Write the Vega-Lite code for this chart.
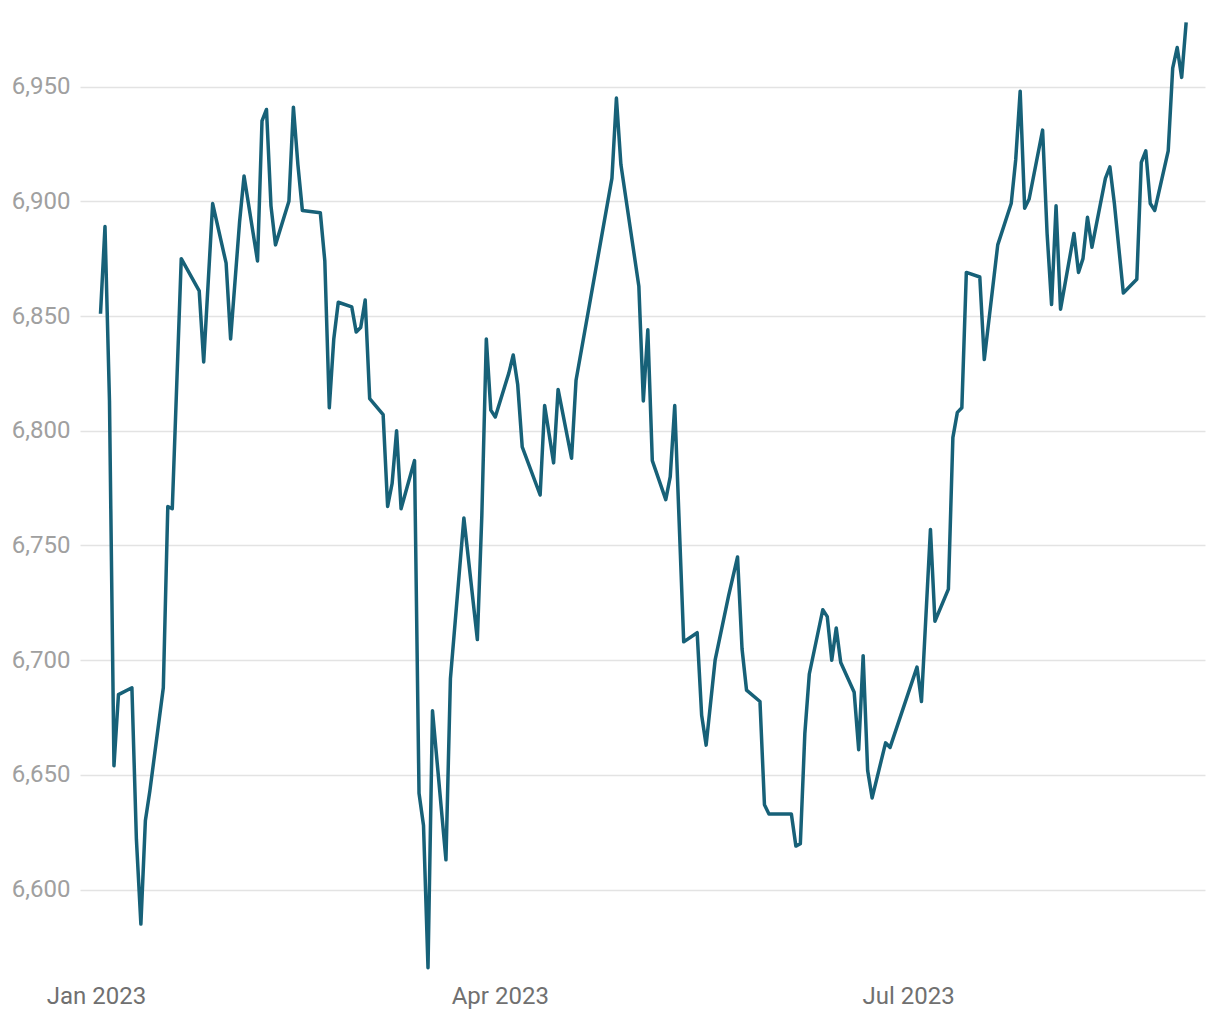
{
  "$schema": "https://vega.github.io/schema/vega-lite/v6.json",
  "width": 1125,
  "height": 950,
  "autosize": {"type": "none"},
  "padding": {"left": 80, "top": 20, "right": 15, "bottom": 50},
  "background": "white",
  "config": {"view": {"stroke": null}, "font": "Roboto"},
  "data": {"values": [
    {"date": "2023-01-02", "value": 6851},
    {"date": "2023-01-03", "value": 6889},
    {"date": "2023-01-04", "value": 6813},
    {"date": "2023-01-05", "value": 6654},
    {"date": "2023-01-06", "value": 6685},
    {"date": "2023-01-09", "value": 6688},
    {"date": "2023-01-10", "value": 6622},
    {"date": "2023-01-11", "value": 6585},
    {"date": "2023-01-12", "value": 6630},
    {"date": "2023-01-13", "value": 6643},
    {"date": "2023-01-16", "value": 6688},
    {"date": "2023-01-17", "value": 6767},
    {"date": "2023-01-18", "value": 6766},
    {"date": "2023-01-20", "value": 6875},
    {"date": "2023-01-24", "value": 6861},
    {"date": "2023-01-25", "value": 6830},
    {"date": "2023-01-27", "value": 6899},
    {"date": "2023-01-30", "value": 6873},
    {"date": "2023-01-31", "value": 6840},
    {"date": "2023-02-02", "value": 6891},
    {"date": "2023-02-03", "value": 6911},
    {"date": "2023-02-06", "value": 6874},
    {"date": "2023-02-07", "value": 6935},
    {"date": "2023-02-08", "value": 6940},
    {"date": "2023-02-09", "value": 6898},
    {"date": "2023-02-10", "value": 6881},
    {"date": "2023-02-13", "value": 6900},
    {"date": "2023-02-14", "value": 6941},
    {"date": "2023-02-15", "value": 6916},
    {"date": "2023-02-16", "value": 6896},
    {"date": "2023-02-20", "value": 6895},
    {"date": "2023-02-21", "value": 6874},
    {"date": "2023-02-22", "value": 6810},
    {"date": "2023-02-23", "value": 6840},
    {"date": "2023-02-24", "value": 6856},
    {"date": "2023-02-27", "value": 6854},
    {"date": "2023-02-28", "value": 6843},
    {"date": "2023-03-01", "value": 6845},
    {"date": "2023-03-02", "value": 6857},
    {"date": "2023-03-03", "value": 6814},
    {"date": "2023-03-06", "value": 6807},
    {"date": "2023-03-07", "value": 6767},
    {"date": "2023-03-08", "value": 6777},
    {"date": "2023-03-09", "value": 6800},
    {"date": "2023-03-10", "value": 6766},
    {"date": "2023-03-13", "value": 6787},
    {"date": "2023-03-14", "value": 6642},
    {"date": "2023-03-15", "value": 6628},
    {"date": "2023-03-16", "value": 6566},
    {"date": "2023-03-17", "value": 6678},
    {"date": "2023-03-20", "value": 6613},
    {"date": "2023-03-21", "value": 6692},
    {"date": "2023-03-24", "value": 6762},
    {"date": "2023-03-27", "value": 6709},
    {"date": "2023-03-28", "value": 6763},
    {"date": "2023-03-29", "value": 6840},
    {"date": "2023-03-30", "value": 6809},
    {"date": "2023-03-31", "value": 6806},
    {"date": "2023-04-03", "value": 6825},
    {"date": "2023-04-04", "value": 6833},
    {"date": "2023-04-05", "value": 6820},
    {"date": "2023-04-06", "value": 6793},
    {"date": "2023-04-10", "value": 6772},
    {"date": "2023-04-11", "value": 6811},
    {"date": "2023-04-13", "value": 6786},
    {"date": "2023-04-14", "value": 6818},
    {"date": "2023-04-17", "value": 6788},
    {"date": "2023-04-18", "value": 6822},
    {"date": "2023-04-26", "value": 6910},
    {"date": "2023-04-27", "value": 6945},
    {"date": "2023-04-28", "value": 6916},
    {"date": "2023-05-02", "value": 6863},
    {"date": "2023-05-03", "value": 6813},
    {"date": "2023-05-04", "value": 6844},
    {"date": "2023-05-05", "value": 6787},
    {"date": "2023-05-08", "value": 6770},
    {"date": "2023-05-09", "value": 6780},
    {"date": "2023-05-10", "value": 6811},
    {"date": "2023-05-12", "value": 6708},
    {"date": "2023-05-15", "value": 6712},
    {"date": "2023-05-16", "value": 6676},
    {"date": "2023-05-17", "value": 6663},
    {"date": "2023-05-19", "value": 6700},
    {"date": "2023-05-22", "value": 6728},
    {"date": "2023-05-24", "value": 6745},
    {"date": "2023-05-25", "value": 6705},
    {"date": "2023-05-26", "value": 6687},
    {"date": "2023-05-29", "value": 6682},
    {"date": "2023-05-30", "value": 6637},
    {"date": "2023-05-31", "value": 6633},
    {"date": "2023-06-05", "value": 6633},
    {"date": "2023-06-06", "value": 6619},
    {"date": "2023-06-07", "value": 6620},
    {"date": "2023-06-08", "value": 6668},
    {"date": "2023-06-09", "value": 6694},
    {"date": "2023-06-12", "value": 6722},
    {"date": "2023-06-13", "value": 6719},
    {"date": "2023-06-14", "value": 6700},
    {"date": "2023-06-15", "value": 6714},
    {"date": "2023-06-16", "value": 6699},
    {"date": "2023-06-19", "value": 6686},
    {"date": "2023-06-20", "value": 6661},
    {"date": "2023-06-21", "value": 6702},
    {"date": "2023-06-22", "value": 6652},
    {"date": "2023-06-23", "value": 6640},
    {"date": "2023-06-26", "value": 6664},
    {"date": "2023-06-27", "value": 6662},
    {"date": "2023-07-03", "value": 6697},
    {"date": "2023-07-04", "value": 6682},
    {"date": "2023-07-06", "value": 6757},
    {"date": "2023-07-07", "value": 6717},
    {"date": "2023-07-10", "value": 6731},
    {"date": "2023-07-11", "value": 6797},
    {"date": "2023-07-12", "value": 6808},
    {"date": "2023-07-13", "value": 6810},
    {"date": "2023-07-14", "value": 6869},
    {"date": "2023-07-17", "value": 6867},
    {"date": "2023-07-18", "value": 6831},
    {"date": "2023-07-21", "value": 6881},
    {"date": "2023-07-24", "value": 6899},
    {"date": "2023-07-25", "value": 6918},
    {"date": "2023-07-26", "value": 6948},
    {"date": "2023-07-27", "value": 6897},
    {"date": "2023-07-28", "value": 6901},
    {"date": "2023-07-31", "value": 6931},
    {"date": "2023-08-01", "value": 6886},
    {"date": "2023-08-02", "value": 6855},
    {"date": "2023-08-03", "value": 6898},
    {"date": "2023-08-04", "value": 6853},
    {"date": "2023-08-07", "value": 6886},
    {"date": "2023-08-08", "value": 6869},
    {"date": "2023-08-09", "value": 6875},
    {"date": "2023-08-10", "value": 6893},
    {"date": "2023-08-11", "value": 6880},
    {"date": "2023-08-14", "value": 6910},
    {"date": "2023-08-15", "value": 6915},
    {"date": "2023-08-16", "value": 6899},
    {"date": "2023-08-18", "value": 6860},
    {"date": "2023-08-21", "value": 6866},
    {"date": "2023-08-22", "value": 6917},
    {"date": "2023-08-23", "value": 6922},
    {"date": "2023-08-24", "value": 6899},
    {"date": "2023-08-25", "value": 6896},
    {"date": "2023-08-28", "value": 6922},
    {"date": "2023-08-29", "value": 6958},
    {"date": "2023-08-30", "value": 6967},
    {"date": "2023-08-31", "value": 6954},
    {"date": "2023-09-01", "value": 6978}
  ]},
  "mark": {"type": "line", "color": "#176178", "strokeWidth": 3.5, "strokeJoin": "round", "clip": true},
  "encoding": {
    "x": {
      "field": "date",
      "type": "temporal",
      "scale": {
        "type": "utc",
        "domain": [
          {"year": 2022, "month": 12, "date": 28, "hours": 10, "minutes": 18, "utc": true},
          {"year": 2023, "month": 9, "date": 5, "hours": 4, "minutes": 48, "utc": true}
        ]
      },
      "axis": {
        "title": null,
        "values": [
          {"year": 2023, "month": 1, "date": 1, "utc": true},
          {"year": 2023, "month": 4, "date": 1, "utc": true},
          {"year": 2023, "month": 7, "date": 1, "utc": true}
        ],
        "format": "%b %Y",
        "grid": false,
        "domain": false,
        "ticks": false,
        "labelFont": "Roboto",
        "labelFontSize": 24,
        "labelColor": "#707070",
        "labelPadding": 14,
        "labelFlush": false
      }
    },
    "y": {
      "field": "value",
      "type": "quantitative",
      "scale": {"domain": [6565, 6979], "zero": false, "nice": false},
      "axis": {
        "title": null,
        "values": [6600, 6650, 6700, 6750, 6800, 6850, 6900, 6950],
        "format": ",.0f",
        "domain": false,
        "ticks": false,
        "grid": true,
        "gridColor": "#e3e3e3",
        "gridWidth": 1.5,
        "labelFont": "Roboto",
        "labelFontSize": 24,
        "labelColor": "#a0a0a0",
        "labelPadding": 10
      }
    }
  }
}
